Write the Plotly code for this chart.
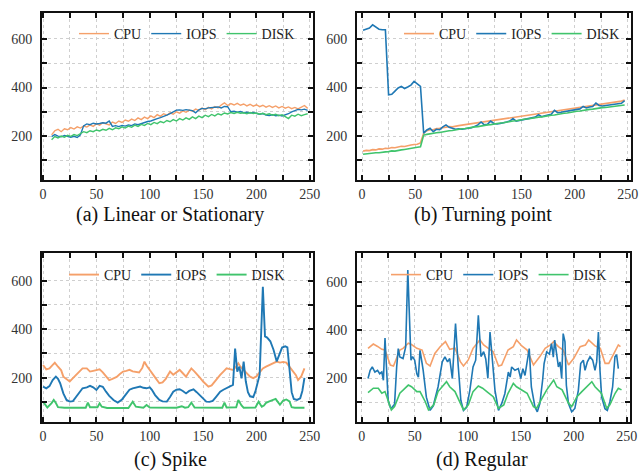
import plotly.graph_objects as go

# ---------------- tick labels ----------------
X_TICKS = [0, 25, 50, 75, 100, 125, 150, 175, 200, 225, 250]
X_LABELS = ["0", "", "50", "", "100", "", "150", "", "200", "", "250"]
Y_TICKS = [100, 200, 300, 400, 500, 600]
Y_LABELS = ["", "200", "", "400", "", "600"]
SERIES = ["CPU", "IOPS", "DISK"]
CAPTIONS = ["(a) Linear or Stationary", "(b) Turning point", "(c) Spike", "(d) Regular"]

# ---------------- (a) Linear or Stationary ----------------
a_x = list(range(8, 249, 3))
a_cpu = [205, 222, 228, 218, 230, 226, 235, 229, 238, 233, 241, 237, 246, 240, 250, 245, 255, 249, 246, 258,
         252, 262, 256, 266, 261, 270, 264, 275, 268, 278, 272, 283, 276, 288, 281, 292, 286, 296, 290, 300,
         294, 304, 298, 307, 302, 311, 306, 315, 309, 318, 312, 322, 316, 328, 337, 326, 334, 328, 335, 327,
         332, 324, 331, 323, 329, 321, 327, 319, 325, 318, 324, 316, 322, 315, 320, 313, 318, 312, 319, 326, 314]
a_iops = [198, 206, 200, 197, 202, 198, 195, 199, 194, 205, 242, 250, 247, 253, 250, 252, 255, 253, 262, 240,
          243, 239, 244, 241, 246, 243, 250, 247, 252, 255, 260, 262, 268, 272, 276, 280, 286, 292, 298, 307,
          308, 306, 309, 307, 305, 296, 308, 314, 312, 316, 318, 318, 320, 316, 322, 321, 300, 302, 298, 301,
          296, 298, 295, 297, 292, 290, 293, 287, 285, 288, 284, 286, 283, 287, 292, 300, 306, 310, 308, 311, 306]
a_disk = [185, 198, 192, 200, 195, 203, 199, 206, 202, 210, 218, 214, 222, 218, 225, 221, 228, 224, 232, 226,
          234, 230, 238, 233, 241, 236, 245, 240, 248, 244, 252, 247, 256, 251, 260, 255, 264, 259, 268, 262,
          272, 266, 275, 269, 279, 272, 282, 276, 286, 280, 289, 283, 292, 287, 295, 291, 297, 293, 298, 294,
          296, 292, 297, 293, 295, 290, 294, 288, 292, 286, 290, 284, 288, 280, 272, 286, 282, 290, 284, 288, 292]

# ---------------- (b) Turning point ----------------
b_x = list(range(1, 248, 3))
b_cpu = [138, 141, 140, 144, 143, 147, 146, 150, 149, 153, 152, 156, 158, 157, 161, 163, 165, 166, 172, 212,
         222, 226, 226, 231, 232, 235, 236, 239, 238, 242, 243, 245, 247, 248, 251, 252, 254, 256, 258, 260,
         262, 263, 265, 267, 268, 271, 272, 275, 276, 279, 281, 284, 285, 288, 290, 291, 294, 296, 297, 300,
         302, 303, 306, 308, 309, 312, 314, 315, 318, 320, 321, 324, 326, 327, 330, 332, 333, 336, 338, 339,
         342, 344, 348]
b_iops = [636, 640, 645, 658, 648, 640, 638, 638, 370, 372, 385, 398, 405, 396, 402, 410, 425, 415, 405, 212,
          225, 232, 218, 228, 226, 238, 246, 236, 232, 228, 230, 228, 230, 232, 234, 240, 246, 258, 246, 248,
          262, 252, 250, 252, 254, 258, 262, 272, 262, 265, 268, 270, 272, 275, 278, 288, 280, 284, 286, 290,
          306, 296, 298, 300, 302, 304, 306, 308, 312, 322, 316, 320, 322, 336, 326, 324, 326, 328, 330, 330,
          332, 335, 346]
b_disk = [125, 127, 126, 129, 131, 131, 134, 135, 136, 139, 138, 142, 143, 145, 148, 148, 151, 154, 156, 204,
          207, 210, 211, 214, 215, 218, 219, 222, 223, 226, 227, 230, 231, 234, 235, 238, 239, 242, 243, 246,
          247, 250, 251, 254, 255, 258, 259, 262, 263, 266, 267, 270, 271, 274, 275, 278, 279, 282, 283, 286,
          287, 290, 291, 294, 295, 298, 299, 302, 303, 306, 307, 310, 311, 314, 315, 317, 318, 320, 321, 322,
          323, 325, 328]

# ---------------- (c) Spike ----------------
c_cpu_x = [0, 3, 6, 9, 11, 14, 17, 19, 22, 25, 28, 31, 34, 37, 41, 44, 47, 50, 53, 56, 59, 62, 65, 69, 72, 75,
           78, 81, 84, 87, 90, 93, 95, 97, 100, 103, 106, 109, 112, 115, 119, 122, 125, 128, 131, 134, 137,
           139, 142, 144, 147, 150, 153, 155, 158, 161, 163, 166, 169, 172, 175, 178, 181, 183, 185, 187, 190,
           194, 197, 200, 203, 206, 209, 212, 215, 219, 222, 225, 228, 231, 234, 237, 239, 242, 245]
c_cpu = [252, 234, 238, 255, 262, 245, 230, 204, 195, 184, 198, 211, 225, 238, 238, 225, 228, 230, 234, 222,
         205, 190, 195, 203, 215, 225, 228, 232, 226, 224, 221, 240, 266, 250, 230, 211, 195, 177, 180, 195,
         225, 212, 222, 232, 218, 204, 225, 238, 225, 216, 200, 184, 172, 163, 168, 185, 198, 211, 225, 238,
         235, 232, 245, 259, 245, 235, 222, 204, 198, 205, 222, 238, 245, 252, 258, 266, 262, 265, 262, 245,
         225, 210, 190, 205, 238]
c_iops_x = [0, 3, 6, 9, 12, 14, 16, 19, 22, 25, 28, 31, 34, 37, 41, 44, 47, 50, 53, 56, 59, 62, 66, 70, 74, 78,
            81, 84, 88, 91, 94, 97, 100, 102, 105, 109, 112, 116, 119, 122, 125, 128, 131, 134, 137, 141, 144,
            147, 150, 153, 156, 159, 162, 166, 169, 172, 175, 178, 180, 182, 184, 186, 188, 190, 192, 194, 197,
            199, 203, 205, 206, 208, 210, 213, 216, 219, 221, 224, 227, 229, 231, 233, 235, 238, 241, 243, 245]
c_iops = [163, 156, 165, 190, 204, 195, 177, 135, 108, 101, 103, 122, 140, 156, 160, 166, 160, 149, 166, 162,
          142, 125, 108, 97, 110, 135, 150, 156, 160, 163, 158, 156, 160, 150, 128, 108, 102, 101, 120, 142,
          150, 152, 145, 135, 145, 152, 140, 128, 112, 101, 100, 104, 120, 142, 150, 156, 162, 170, 320, 225,
          245, 197, 266, 185, 140, 123, 120, 143, 212, 420, 575, 370, 365, 350, 315, 267, 290, 324, 329, 325,
          233, 140, 112, 108, 115, 145, 199]
c_disk_x = [0, 2, 4, 8, 10, 12, 14, 20, 30, 40, 42, 44, 51, 53, 55, 60, 80, 84, 87, 94, 97, 100, 125, 130, 133,
            136, 139, 142, 168, 170, 172, 181, 183, 186, 188, 199, 202, 205, 207, 209, 212, 215, 218, 220, 222,
            225, 228, 231, 233, 236, 245]
c_disk = [101, 88, 77, 95, 108, 95, 78, 76, 75, 76, 97, 78, 78, 94, 80, 75, 75, 101, 80, 76, 87, 77, 76, 82, 76,
          78, 97, 77, 76, 97, 77, 78, 108, 85, 76, 77, 101, 80, 85, 96, 102, 108, 112, 100, 88, 105, 110, 102,
          78, 76, 76]

# ---------------- (d) Regular ----------------
d_cpu_x = [6, 11, 15, 19, 22, 27, 30, 36, 39, 44, 47, 52, 57, 61, 64.5, 69, 74, 79, 83, 88, 93, 96, 100.5, 105,
           111.5, 115, 119.5, 124, 129, 132, 138, 143, 146, 151, 156, 162, 168, 173, 178, 181, 185.5, 190, 195,
           200, 206, 211, 214, 220, 225, 229.5, 233, 237.5, 242, 244]
d_cpu = [324, 342, 332, 320, 317, 255, 251, 317, 324, 345, 340, 324, 317, 262, 251, 303, 331, 352, 320, 325,
         269, 251, 276, 324, 359, 338, 324, 310, 251, 255, 317, 331, 359, 334, 317, 255, 290, 324, 338, 352,
         331, 317, 255, 283, 331, 338, 359, 334, 324, 262, 262, 303, 338, 331]
d_iops_x = [6, 8, 10, 12.5, 15, 17, 19, 20.5, 22, 25, 27.5, 31, 33, 34.5, 36, 39, 41.5, 43.5, 46.5, 48, 50, 52,
            53.5, 55, 56.5, 58, 61, 64.5, 67.5, 72, 76, 78.5, 81, 83, 85.5, 88.5, 91, 93.5, 96, 99, 102, 105,
            107.5, 110, 112.5, 115, 117, 119, 121, 124, 125.7, 129, 132, 135, 138.3, 140, 141.4, 144.5, 147.7,
            150, 152, 154, 155.6, 158, 160, 163.4, 165.6, 168, 170.6, 172, 174.4, 177, 179, 180.7, 182, 184,
            185.5, 187, 188.6, 190, 191.7, 193, 195, 198, 201, 204.3, 206.5, 209, 210.6, 212.8, 215.3, 217.8,
            220, 221.6, 223.2, 224.7, 226.3, 229.4, 231.6, 234, 236.6, 238.8, 240.4, 242]
d_iops = [199, 233, 247, 226, 233, 219, 226, 192, 367, 109, 74, 92, 247, 323, 288, 282, 330, 648, 275, 290, 275,
          219, 205, 316, 275, 233, 122, 67, 86, 164, 268, 289, 268, 282, 199, 427, 254, 109, 67, 80, 150, 247,
          275, 461, 290, 310, 280, 200, 392, 233, 150, 67, 95, 136, 226, 205, 247, 233, 240, 199, 240, 212, 261,
          323, 164, 81, 61, 95, 192, 261, 309, 300, 344, 288, 358, 300, 247, 268, 199, 385, 351, 171, 95, 61, 75,
          150, 261, 275, 233, 268, 289, 275, 233, 268, 392, 233, 122, 74, 67, 102, 164, 289, 297, 240]
d_disk_x = [6, 11, 15.7, 19, 22, 25, 28, 31, 36, 41, 44, 47, 52, 55, 60, 63, 68, 72, 75, 80, 83, 88, 93, 96,
            100.6, 105, 110, 114, 118, 124, 129, 134, 138, 143, 146, 151, 156, 162, 165, 170, 174.5, 181, 184,
            189, 195, 198, 203, 207.6, 212, 217, 220, 226, 231, 234, 239, 242, 245]
d_disk = [141, 159, 159, 138, 145, 103, 69, 83, 138, 159, 172, 165, 145, 145, 103, 69, 90, 145, 159, 186, 165,
          145, 97, 69, 90, 145, 168, 159, 145, 124, 76, 90, 138, 179, 165, 152, 138, 83, 76, 117, 152, 193, 165,
          152, 97, 83, 124, 145, 165, 186, 165, 138, 76, 90, 138, 159, 152]

# ---------------- styling ----------------
COLORS = {"CPU": "#F5A06A", "IOPS": "#1F78B4", "DISK": "#40C46C"}
W, H = 639, 473
FONT = "Liberation Serif, Times New Roman, serif"

panels = [
    dict(series=[(a_x, a_cpu), (a_x, a_iops), (a_x, a_disk)], lw=1.4,
         px=(42, 313), py=(13, 180), xr=[-1, 253], yr=[19, 707], leg=(74, 34), cap=(170, 214)),
    dict(series=[(b_x, b_cpu), (b_x, b_iops), (b_x, b_disk)], lw=1.6,
         px=(357, 631), py=(13, 180), xr=[-4.7, 253], yr=[19, 707], leg=(399, 34), cap=(483, 214)),
    dict(series=[(c_cpu_x, c_cpu), (c_iops_x, c_iops), (c_disk_x, c_disk)], lw=1.9,
         px=(42, 313), py=(253, 422), xr=[-1, 253], yr=[17, 714], leg=(64, 275), cap=(170, 459)),
    dict(series=[(d_cpu_x, d_cpu), (d_iops_x, d_iops), (d_disk_x, d_disk)], lw=1.6,
         px=(357, 630), py=(253, 422), xr=[-4.4, 253], yr=[19, 719], leg=(386, 275), cap=(482, 459)),
]

fig = go.Figure()
layout = {}
annotations = []
for i, p in enumerate(panels):
    k = "" if i == 0 else str(i + 1)
    legname = "legend" + k
    for name, (xs, ys) in zip(SERIES, p["series"]):
        fig.add_trace(go.Scatter(
            x=xs, y=ys, mode="lines", name=name,
            line=dict(color=COLORS[name], width=p["lw"]),
            xaxis="x" + k, yaxis="y" + k, legend=legname, showlegend=True))
    common = dict(ticks="inside", ticklen=5, tickwidth=1.5, tickcolor="#111",
                  showline=True, linewidth=2, linecolor="#111", mirror="allticks",
                  showgrid=True, gridcolor="#cfcfcf", griddash="dot", gridwidth=1,
                  zeroline=False, automargin=False,
                  tickfont=dict(family=FONT, size=14, color="#333"))
    layout["xaxis" + k] = dict(domain=[p["px"][0] / W, p["px"][1] / W], range=p["xr"],
                               anchor="y" + k, tickmode="array", tickvals=X_TICKS,
                               ticktext=X_LABELS, **common)
    layout["yaxis" + k] = dict(domain=[1 - p["py"][1] / H, 1 - p["py"][0] / H], range=p["yr"],
                               anchor="x" + k, tickmode="array", tickvals=Y_TICKS,
                               ticktext=Y_LABELS, ticklabelstandoff=5, **common)
    layout[legname] = dict(orientation="h", x=p["leg"][0] / W, xanchor="left",
                           y=1 - p["leg"][1] / H, yanchor="middle",
                           bgcolor="rgba(0,0,0,0)", borderwidth=0,
                           font=dict(family=FONT, size=14, color="#222"))
    annotations.append(dict(text=CAPTIONS[i], xref="paper", yref="paper",
                            x=p["cap"][0] / W, y=1 - p["cap"][1] / H,
                            xanchor="center", yanchor="middle", showarrow=False,
                            font=dict(family=FONT, size=20, color="#111")))

fig.update_layout(width=W, height=H, margin=dict(l=0, r=0, t=0, b=0, autoexpand=False),
                  paper_bgcolor="white", plot_bgcolor="white",
                  annotations=annotations, **layout)
fig.write_html("out.html", config={"displayModeBar": False},
               post_script="document.body.style.margin='0';document.body.style.overflow='hidden';")
